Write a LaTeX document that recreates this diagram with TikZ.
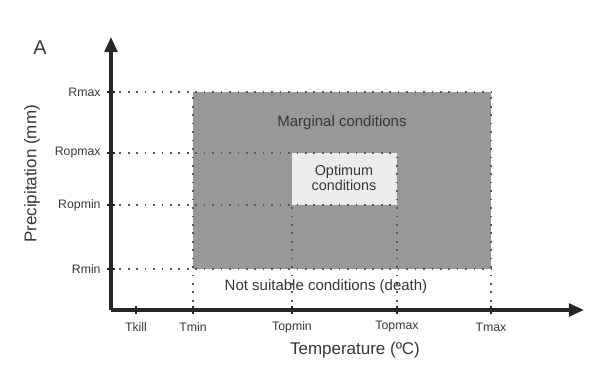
\documentclass[tikz,border=0pt]{standalone}
\usepackage{fontspec}
\setmainfont{Liberation Sans}
\usepackage{tikz}
\usetikzlibrary{positioning, arrows.meta, calc}
\usepackage{xcolor}
\definecolor{txtgray}{RGB}{55,55,55}
\definecolor{margray}{RGB}{152,152,152}
\definecolor{optgray}{RGB}{236,236,236}

\begin{document}
\begin{tikzpicture}[x=0.03cm, y=-0.03cm,
    axis/.style={line width=2.8pt, black!85, -{Triangle[length=13pt,width=11pt]}},
    guide/.style={line width=1.7pt, black!65, dash pattern=on 1.4pt off 5.8pt},
    tickmark/.style={line width=2pt, black!85},
    ticklab/.style={font=\fontsize{10.5}{12}\selectfont, text=txtgray, inner sep=1pt}]
\useasboundingbox (0,0) rectangle (609,366);

% axes
\coordinate (O) at (111,310);
\coordinate (xend) at (584,310);
\coordinate (yend) at (111,37);

% x ticks
\foreach \x/\name/\lab in {136/tkill/Tkill, 193/tmin/Tmin, 292/topmin/Topmin, 397/topmax/Topmax, 491/tmax/Tmax} {
    \coordinate (\name) at (\x,310);
    \draw[tickmark] ($(\name)+(0,-4)$) -- ($(\name)+(0,4)$);
    \node[ticklab] (\name-lab) at (\x,327) {\lab};
}

% y ticks
\foreach \y/\name/\lab in {92/rmax/Rmax, 153/ropmax/Ropmax, 205/ropmin/Ropmin, 269/rmin/Rmin} {
    \coordinate (\name) at (111,\y);
    \draw[tickmark] ($(\name)+(-4,0)$) -- ($(\name)+(4,0)$);
    \node[ticklab, anchor=east] (\name-lab) at (102,\y) {\lab};
}

% marginal and optimum regions
\fill[margray] (tmin |- rmax) rectangle (tmax |- rmin);
\fill[optgray] (topmin |- ropmax) rectangle (topmax |- ropmin);

% guide lines
\draw[guide] (rmax) -- (tmax |- rmax);
\draw[guide] (ropmax) -- (topmax |- ropmax);
\draw[guide] (ropmin) -- (topmax |- ropmin);
\draw[guide] (rmin) -- (tmax |- rmin);
\draw[guide] (tmin) -- (tmin |- rmax);
\draw[guide] (topmin) -- (topmin |- ropmin);
\draw[guide] (topmax) -- (topmax |- ropmax);
\draw[guide] (tmax) -- (tmax |- rmax);

\draw[axis] (O) -- (xend);
\draw[axis] (O) -- (yend);

% labels
\node[font=\fontsize{12.8}{15}\selectfont, text=txtgray] (marg) at (342,123) {Marginal conditions};
\node[font=\fontsize{12.3}{14.5}\selectfont, text=txtgray, align=center] (opt) at (344,178) {Optimum\\[-2pt]conditions};
\node[font=\fontsize{12.8}{15}\selectfont, text=txtgray] (death) at (326,287) {Not suitable conditions (death)};
\node[font=\fontsize{14.5}{17}\selectfont, text=txtgray] (xlab) at (355,350) {Temperature (ºC)};
\node[font=\fontsize{14.5}{17}\selectfont, text=txtgray, rotate=90] (ylab) at (32,174) {Precipitation (mm)};
\node[font=\fontsize{17}{20}\selectfont, text=txtgray] (panel) at (40,48) {A};
\end{tikzpicture}
\end{document}
